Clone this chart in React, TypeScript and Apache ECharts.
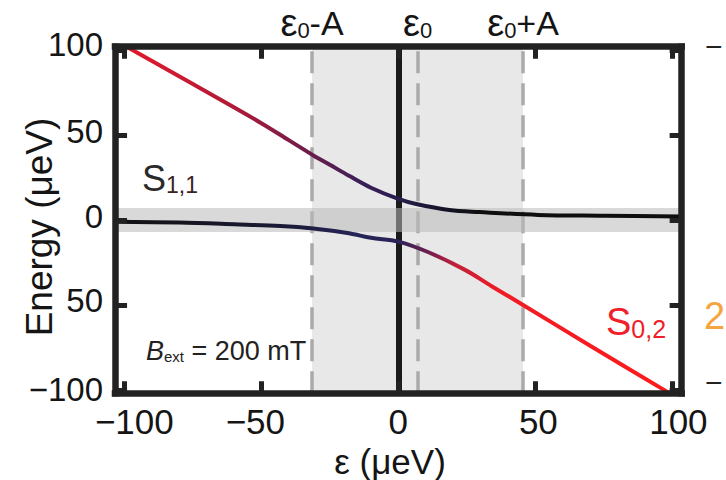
import React, { useEffect, useRef } from 'react';
import * as echarts from 'echarts';

const FONT = '"Liberation Sans", Arial, Helvetica, sans-serif';

// Axis ticks and labels
const xTicks = [-100, -50, 0, 50, 100];
const xTickLabels = ['−100', '−50', '0', '50', '100'];
const yTicks = [-100, -50, 0, 50, 100];
const yTickLabels = ['−100', '50', '0', '50', '100'];
const xTitle = 'ε (μeV)';
const yTitle = 'Energy (μeV)';

// Upper branch (S0,2 -> S1,1)
const upperEps = [-103.4, -98, -75, -50, -40, -31, -25, -18, -10, 0, 6.5, 18.6, 29.5, 51, 75, 103.4];
const upperEnergy = [106, 101, 80, 57, 47, 38, 32.5, 26, 19, 12.4, 9.4, 5.9, 4.7, 3, 2.5, 2];

// Lower branch (S1,1 -> S0,2)
const lowerEps = [-103.4, -80, -60, -43, -31, -18, -10, 0, 11, 24.5, 33.6, 45.5, 70, 98, 103.4];
const lowerEnergy = [-1, -1.5, -2.5, -3.5, -5, -7.8, -10.5, -12.7, -19, -29.5, -38.5, -50, -74, -101, -106];

// Detuning markers
const markerEps = [-31.5, 7, 45.5];
const markerSuffix = ['-A', '', '+A'];
const shadedRange = [-31.5, 45.5];
const zeroBand = [-7, 7];
const referenceEps = 0;

const upperStops = [
  [0, '#e61a2a'],
  [0.2, '#b41a36'],
  [0.33, '#741d4a'],
  [0.43, '#3c1f58'],
  [0.5, '#281e4c'],
  [0.58, '#141428'],
  [0.65, '#0e0e0e'],
  [1, '#0e0e0e'],
];
const lowerStops = [
  [0, '#111111'],
  [0.3, '#1b1b38'],
  [0.42, '#252456'],
  [0.5, '#2a2358'],
  [0.55, '#6a2050'],
  [0.6, '#c2203a'],
  [0.68, '#f01c24'],
  [1, '#ff1a1a'],
];

const xShift = [10, -6, 0, 3, 6];
const yShift = [0, -4, -3.5, -3.5, -6];

export default function App() {
  const ref = useRef<HTMLDivElement>(null);
  useEffect(() => {
    if (!ref.current) return;
    const chart = echarts.init(ref.current, null, { renderer: 'svg' });
    const XMIN = -103.4, XMAX = 103.4, YMIN = -102, YMAX = 102;
    const TICK_X = 4.4, TICK_Y = 7.1; // tick length in data units (~12 px)
    const frameLine = { color: '#222', width: 6.5, cap: 'square' };

    const xRich: any = {};
    xTicks.forEach((_, i) => {
      const s = xShift[i];
      xRich['x' + i] = {
        fontSize: 35, lineHeight: 28, fontFamily: FONT, color: '#151515',
        padding: s >= 0 ? [0, 0, 0, 2 * s] : [0, -2 * s, 0, 0],
      };
    });
    const yRich: any = {};
    yTicks.forEach((_, i) => {
      const s = yShift[i];
      yRich['y' + i] = {
        fontSize: 33, lineHeight: 26, fontFamily: FONT, color: '#151515',
        padding: s >= 0 ? [2 * s, 0, 0, 0] : [0, 0, -2 * s, 0],
      };
    });

    const upper = upperEps.map((e, i) => [e, upperEnergy[i]]);
    const lower = lowerEps.map((e, i) => [e, lowerEnergy[i]]);

    const tickSegments: any[] = [];
    xTicks.forEach((t) => {
      tickSegments.push([{ coord: [t, YMIN] }, { coord: [t, YMIN + TICK_Y] }]);
      tickSegments.push([{ coord: [t, YMAX] }, { coord: [t, YMAX - TICK_Y] }]);
    });
    yTicks.forEach((t) => {
      tickSegments.push([{ coord: [XMIN, t] }, { coord: [XMIN + TICK_X, t] }]);
      tickSegments.push([{ coord: [XMAX, t] }, { coord: [XMAX - TICK_X, t] }]);
    });

    const option: any = {
      animation: false,
      grid: {
        left: 115, right: 44.3, top: 46.7, bottom: 86.7,
        containLabel: false, outerBoundsMode: 'none',
      },
      xAxis: [
        {
          type: 'value', min: XMIN, max: XMAX, position: 'bottom', z: 6,
          axisLine: { show: true, onZero: false, lineStyle: frameLine },
          axisTick: { show: false },
          axisLabel: {
            customValues: xTicks, margin: 14,
            formatter: (v: number) => {
              const i = xTicks.indexOf(v);
              return `{x${i}|${xTickLabels[i]}}`;
            },
            rich: xRich,
          },
          splitLine: { show: false },
        },
        {
          type: 'value', min: XMIN, max: XMAX, position: 'top', z: 6,
          axisLine: { show: true, onZero: false, lineStyle: frameLine },
          axisTick: { show: false },
          axisLabel: { show: false },
          splitLine: { show: false },
        },
      ],
      yAxis: [
        {
          type: 'value', min: YMIN, max: YMAX, position: 'left', z: 6,
          axisLine: { show: true, onZero: false, lineStyle: frameLine },
          axisTick: { show: false },
          axisLabel: {
            customValues: yTicks, margin: 12,
            formatter: (v: number) => {
              const i = yTicks.indexOf(v);
              return `{y${i}|${yTickLabels[i]}}`;
            },
            rich: yRich,
          },
          splitLine: { show: false },
          name: yTitle, nameLocation: 'middle', nameGap: 57, nameRotate: 90, nameMoveOverlap: false,
          nameTextStyle: { fontSize: 37, fontFamily: FONT, color: '#151515', padding: [0, 14, 0, 0] },
        },
        {
          type: 'value', min: YMIN, max: YMAX, position: 'right', z: 6,
          axisLine: { show: true, onZero: false, lineStyle: frameLine },
          axisTick: { show: false },
          axisLabel: { show: false },
          splitLine: { show: false },
        },
      ],
      series: [
        {
          type: 'line', data: [], silent: true,
          markArea: {
            silent: true, z: 1,
            itemStyle: { color: '#e8e8e8' },
            data: [[{ xAxis: shadedRange[0] }, { xAxis: shadedRange[1] }]],
          },
          markLine: {
            silent: true, z: 2, symbol: ['none', 'none'],
            data: [
              ...markerEps.map((e, i) => ({
                xAxis: e,
                lineStyle: { color: '#aaaaaa', width: 3.5, type: [22, 10] },
                label: {
                  show: true, position: 'end', distance: 5,
                  formatter: `{e|ε}{s|0}{t|${markerSuffix[i]}}`,
                  rich: {
                    e: { fontSize: 38, fontFamily: FONT, color: '#151515' },
                    s: { fontSize: 22, fontFamily: FONT, color: '#151515', verticalAlign: 'bottom' },
                    t: { fontSize: 34, fontFamily: FONT, color: '#151515' },
                  },
                },
              })),
              {
                xAxis: referenceEps,
                lineStyle: { color: '#1a1a1a', width: 6, type: 'solid' },
                label: { show: false },
              },
            ],
          },
        },
        {
          type: 'line', data: [], silent: true,
          markArea: {
            silent: true, z: 3,
            itemStyle: { color: 'rgba(185,185,185,0.55)' },
            data: [[{ yAxis: zeroBand[0] }, { yAxis: zeroBand[1] }]],
          },
        },
        {
          type: 'line', data: upper, showSymbol: false, smooth: 0.35, z: 4, silent: true,
          lineStyle: {
            width: 4,
            color: new echarts.graphic.LinearGradient(0, 0, 1, 0,
              upperStops.map(([o, c]) => ({ offset: o as number, color: c as string }))),
          },
        },
        {
          type: 'line', data: lower, showSymbol: false, smooth: 0.35, z: 4, silent: true,
          lineStyle: {
            width: 4,
            color: new echarts.graphic.LinearGradient(0, 0, 1, 0,
              lowerStops.map(([o, c]) => ({ offset: o as number, color: c as string }))),
          },
        },
        {
          type: 'line', data: [], silent: true,
          markLine: {
            silent: true, z: 7, symbol: ['none', 'none'],
            lineStyle: { color: '#222', width: 5, type: 'solid' },
            label: { show: false },
            data: tickSegments,
          },
        },
      ],
      graphic: [
        {
          type: 'text', x: 390, y: 461, z: 10,
          style: {
            text: xTitle, fontSize: 35, lineHeight: 36, fontFamily: FONT, fill: '#151515',
            align: 'center', verticalAlign: 'middle',
          },
        },
        {
          type: 'text', x: 142, y: 160, z: 10,
          style: {
            text: '{a|S}{b|1,1}',
            rich: {
              a: { fontSize: 36, fontFamily: FONT, fill: '#2a2a2a' },
              b: { fontSize: 23, fontFamily: FONT, fill: '#3a2222', verticalAlign: 'bottom' },
            },
          },
        },
        {
          type: 'text', x: 606, y: 303, z: 10,
          style: {
            text: '{a|S}{b|0,2}',
            rich: {
              a: { fontSize: 38, fontFamily: FONT, fill: '#f0202a' },
              b: { fontSize: 25, fontFamily: FONT, fill: '#f0202a', verticalAlign: 'bottom' },
            },
          },
        },
        {
          type: 'text', x: 146, y: 337, z: 10,
          style: {
            text: '{a|B}{b|ext}{c| = 200 mT}',
            rich: {
              a: { fontSize: 27, fontFamily: FONT, fontStyle: 'italic', fill: '#222' },
              b: { fontSize: 15, fontFamily: FONT, fill: '#222', verticalAlign: 'bottom' },
              c: { fontSize: 27, fontFamily: FONT, fill: '#222' },
            },
          },
        },
        {
          type: 'text', x: 705, y: 31, z: 10,
          style: { text: '−', fontSize: 30, fontFamily: FONT, fill: '#222' },
        },
        {
          type: 'text', x: 705, y: 367, z: 10,
          style: { text: '−', fontSize: 30, fontFamily: FONT, fill: '#222' },
        },
        {
          type: 'text', x: 704, y: 297, z: 10,
          style: { text: '2', fontSize: 38, fontFamily: FONT, fill: '#f5a540' },
        },
      ],
    };
    chart.setOption(option);
    return () => chart.dispose();
  }, []);
  return (
    <div
      ref={ref}
      style={{ position: 'absolute', left: 0, top: 0, width: 726, height: 480, background: '#fff' }}
    />
  );
}
